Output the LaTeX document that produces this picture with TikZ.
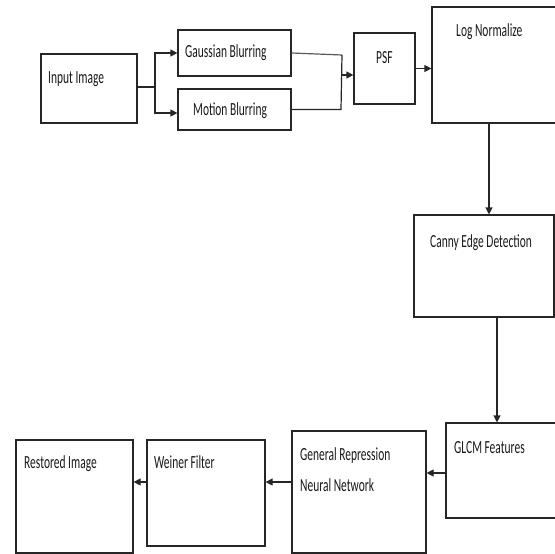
\documentclass[tikz,border=0pt]{standalone}
\usepackage{fontspec}
\setmainfont[FakeStretch=0.62]{Carlito}
\usetikzlibrary{arrows.meta}
\tikzset{
  box/.style={draw=black!85, line width=1.2pt, rectangle, inner sep=0pt},
  lbl/.style={anchor=base west, inner sep=0pt, text=black!90, font=\fontsize{18.5}{22}\selectfont},
  conn/.style={draw=black!85, line width=1.2pt},
  arr/.style={conn, -{Triangle[length=7pt,width=7pt]}}
}
\begin{document}
\begin{tikzpicture}[x=1pt,y=-1pt]
\useasboundingbox (0,0) rectangle (555,554);
% boxes
\node[box, minimum width=96pt, minimum height=69pt] (input) at (89,88.5) {};
\node[box, minimum width=113pt, minimum height=46pt] (gauss) at (234.5,53) {};
\node[box, minimum width=113pt, minimum height=41pt] (motion) at (234.5,109.5) {};
\node[box, minimum width=61pt, minimum height=71pt] (psf) at (384.5,68.5) {};
\node[box, minimum width=124pt, minimum height=116pt] (lognorm) at (494,65) {};
\node[box, minimum width=140pt, minimum height=102pt] (canny) at (484,266) {};
\node[box, minimum width=110pt, minimum height=95pt] (glcm) at (501,470.5) {};
\node[box, minimum width=134pt, minimum height=122pt] (grnn) at (359,492) {};
\node[box, minimum width=118pt, minimum height=106pt] (weiner) at (206,493) {};
\node[box, minimum width=117pt, minimum height=113pt] (restored) at (74.5,496.5) {};
% texts
\node[lbl] (tinput) at (48,83.5) {Input Image};
\node[lbl] (tgauss) at (185,57.5) {Gaussian Blurring};
\node[lbl] (tmotion) at (193,115.5) {Motion Blurring};
\node[lbl] (tpsf) at (376,63.5) {PSF};
\node[lbl] (tlog) at (456,36.5) {Log Normalize};
\node[lbl] (tcanny) at (430,247) {Canny Edge Detection};
\node[lbl] (tglcm) at (454,453.5) {GLCM Features};
\node[lbl] (tgrnn1) at (300,460.5) {General Repression};
\node[lbl] (tgrnn2) at (300,491.5) {Neural Network};
\node[lbl] (tweiner) at (154,468.5) {Weiner Filter};
\node[lbl] (trest) at (24,468.5) {Restored Image};
% connectors
\coordinate (j1) at (155,87);
\draw[conn] ([yshift=1.5pt]input.east) -- (j1);
\draw[arr] (j1) |- (gauss.west);
\draw[arr] (j1) |- ([yshift=-3.5pt]motion.west);
\coordinate (j2a) at (342,55);
\coordinate (j2b) at (341,109.5);
\coordinate (j2) at (341,75);
\draw[conn, draw=black!65] (gauss.east) -- (j2a);
\draw[conn] (j2a) -- (j2b) -- (motion.east);
\draw[arr] (j2) -- (psf.west |- j2);
\draw[arr] (psf.east) -- (lognorm.west |- psf.east);
\draw[arr] ([xshift=-5pt]lognorm.south) -- ([xshift=5pt]canny.north);
\draw[arr] ([xshift=13pt]canny.south) -- ([xshift=-4pt]glcm.north);
\coordinate (g1) at ([yshift=-2.5pt]glcm.west);
\draw[arr] (g1) -- (grnn.east |- g1);
\coordinate (g2) at ([yshift=10pt]grnn.west);
\draw[arr] (g2) -- (weiner.east |- g2);
\coordinate (g3) at ([yshift=11pt]weiner.west);
\draw[arr] (g3) -- (restored.east |- g3);
\end{tikzpicture}
\end{document}
